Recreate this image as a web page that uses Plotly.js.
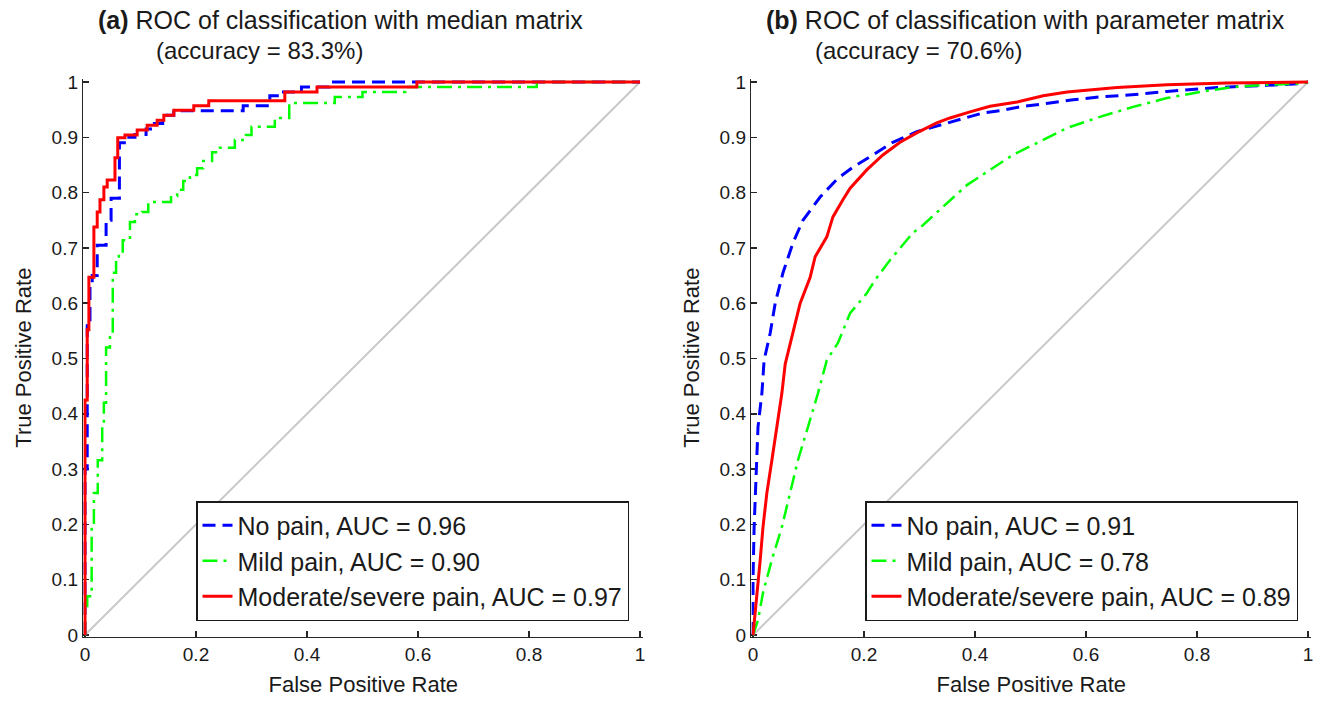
<!DOCTYPE html>
<html>
<head>
<meta charset="utf-8">
<script src="https://cdn.plot.ly/plotly-3.0.1.min.js"></script>
<style>html,body{margin:0;padding:0;background:#fff;}#chart{width:1321px;height:702px;}</style>
</head>
<body>
<div id="chart"></div>
<script>
// ---------- data ----------
const seriesNames = ["No pain", "Mild pain", "Moderate/severe pain"];
const aucA = ["0.96", "0.90", "0.97"];
const aucB = ["0.91", "0.78", "0.89"];
const panelTitles = ["<b>(a)</b> ROC of classification with median matrix", "<b>(b)</b> ROC of classification with parameter matrix"];
const panelSubtitles = ["(accuracy = 83.3%)", "(accuracy = 70.6%)"];
const xTickVals = [0, 0.2, 0.4, 0.6, 0.8, 1];
const xTickText = ["0", "0.2", "0.4", "0.6", "0.8", "1"];
const yTickVals = [0, 0.1, 0.2, 0.3, 0.4, 0.5, 0.6, 0.7, 0.8, 0.9, 1];
const yTickText = ["0", "0.1", "0.2", "0.3", "0.4", "0.5", "0.6", "0.7", "0.8", "0.9", "1"];
const chanceX = [0, 1];
const chanceY = [0, 1];

// Panel (a): step ROC curves (x = FPR, y = TPR)
const aNoPainX = [0, 0, 0.004, 0.009, 0.013, 0.022, 0.038, 0.047, 0.062, 0.075, 0.09, 0.11, 0.125, 0.14, 0.16, 0.285, 0.333, 0.35, 0.39, 0.44, 1];
const aNoPainY = [0, 0.30, 0.57, 0.63, 0.65, 0.705, 0.75, 0.79, 0.89, 0.90, 0.905, 0.915, 0.925, 0.94, 0.948, 0.957, 0.975, 0.982, 0.991, 1.0, 1.0];
const aMildX = [0, 0, 0.004, 0.012, 0.016, 0.023, 0.031, 0.034, 0.038, 0.045, 0.050, 0.056, 0.061, 0.068, 0.081, 0.09, 0.103, 0.114, 0.155, 0.166, 0.177, 0.189, 0.202, 0.213, 0.229, 0.243, 0.27, 0.29, 0.30, 0.342, 0.368, 0.45, 0.50, 0.577, 0.814, 1];
const aMildY = [0, 0.05, 0.07, 0.20, 0.257, 0.316, 0.376, 0.42, 0.52, 0.546, 0.655, 0.678, 0.69, 0.714, 0.747, 0.761, 0.765, 0.783, 0.794, 0.805, 0.821, 0.832, 0.844, 0.857, 0.873, 0.881, 0.895, 0.904, 0.919, 0.935, 0.962, 0.973, 0.982, 0.991, 1.0, 1.0];
const aModX = [0, 0, 0.004, 0.007, 0.016, 0.022, 0.027, 0.034, 0.040, 0.054, 0.059, 0.072, 0.094, 0.112, 0.130, 0.142, 0.160, 0.196, 0.223, 0.360, 0.418, 0.598, 1];
const aModY = [0, 0.425, 0.552, 0.647, 0.738, 0.765, 0.787, 0.810, 0.823, 0.863, 0.899, 0.904, 0.913, 0.922, 0.931, 0.940, 0.949, 0.957, 0.966, 0.982, 0.991, 1.0, 1.0];

// Panel (b): ROC curves
const bNoPainX = [0, 0, 0.002, 0.004, 0.007, 0.009, 0.016, 0.02, 0.031, 0.040, 0.054, 0.072, 0.09, 0.121, 0.153, 0.18, 0.216, 0.252, 0.295, 0.337, 0.378, 0.414, 0.445, 0.481, 0.535, 0.577, 0.625, 0.697, 0.746, 0.792, 0.836, 0.926, 0.985, 1];
const bNoPainY = [0, 0.10, 0.195, 0.257, 0.316, 0.376, 0.437, 0.497, 0.546, 0.60, 0.655, 0.709, 0.75, 0.792, 0.826, 0.846, 0.868, 0.891, 0.91, 0.922, 0.935, 0.944, 0.948, 0.955, 0.962, 0.968, 0.973, 0.978, 0.983, 0.987, 0.99, 0.994, 0.997, 1];
const bMildX = [0, 0.009, 0.018, 0.034, 0.052, 0.067, 0.081, 0.099, 0.117, 0.133, 0.153, 0.175, 0.205, 0.22, 0.247, 0.288, 0.306, 0.342, 0.386, 0.427, 0.468, 0.512, 0.566, 0.625, 0.685, 0.746, 0.805, 0.865, 0.926, 0.985, 1];
const bMildY = [0, 0.027, 0.076, 0.136, 0.195, 0.257, 0.316, 0.376, 0.437, 0.497, 0.528, 0.582, 0.618, 0.642, 0.678, 0.727, 0.741, 0.774, 0.814, 0.841, 0.868, 0.89, 0.917, 0.937, 0.955, 0.971, 0.982, 0.991, 0.995, 0.997, 1];
const bModX = [0, 0.002, 0.007, 0.013, 0.018, 0.025, 0.034, 0.043, 0.052, 0.058, 0.067, 0.085, 0.103, 0.112, 0.133, 0.144, 0.162, 0.175, 0.205, 0.234, 0.265, 0.295, 0.331, 0.355, 0.391, 0.427, 0.476, 0.523, 0.566, 0.656, 0.746, 0.854, 1];
const bModY = [0, 0.02, 0.076, 0.136, 0.195, 0.257, 0.316, 0.376, 0.437, 0.49, 0.528, 0.60, 0.647, 0.684, 0.72, 0.756, 0.787, 0.808, 0.841, 0.868, 0.891, 0.908, 0.926, 0.935, 0.946, 0.956, 0.964, 0.975, 0.982, 0.99, 0.995, 0.998, 1];

// ---------- styles ----------
const FONT = "Liberation Sans, Arial, Helvetica, sans-serif";
const INK = "#1a1a1a";
const styles = [
  {color: "#0000ff", width: 3, dash: "13px,7px"},
  {color: "#00ff00", width: 2.5, dash: "15px,6px,3px,6px"},
  {color: "#ff0000", width: 3, dash: "solid"}
];

function curve(x, y, i, auc, xa, ya, leg, shape) {
  return {
    type: "scatter", mode: "lines", x: x, y: y, xaxis: xa, yaxis: ya,
    name: seriesNames[i] + ", AUC = " + auc[i],
    legend: leg,
    line: {color: styles[i].color, width: styles[i].width, dash: styles[i].dash, shape: shape},
    hoverinfo: "x+y"
  };
}
function chance(xa, ya) {
  return {type: "scatter", mode: "lines", x: chanceX, y: chanceY, xaxis: xa, yaxis: ya,
    showlegend: false, line: {color: "#c8c8c8", width: 2}, hoverinfo: "skip"};
}

const traces = [
  chance("x", "y"),
  curve(aNoPainX, aNoPainY, 0, aucA, "x", "y", "legend", "hv"),
  curve(aMildX, aMildY, 1, aucA, "x", "y", "legend", "hv"),
  curve(aModX, aModY, 2, aucA, "x", "y", "legend", "hv"),
  chance("x2", "y2"),
  curve(bNoPainX, bNoPainY, 0, aucB, "x2", "y2", "legend2", "linear"),
  curve(bMildX, bMildY, 1, aucB, "x2", "y2", "legend2", "linear"),
  curve(bModX, bModY, 2, aucB, "x2", "y2", "legend2", "linear")
];

const W = 1321, H = 702;
function axisBase(extra) {
  return Object.assign({
    range: [-0.003, 1.006], showgrid: false, zeroline: false,
    showline: true, linecolor: "#262626", linewidth: 1.5, mirror: false,
    ticks: "inside", ticklen: 6, tickwidth: 1.5, tickcolor: "#262626",
    tickfont: {family: FONT, size: 19, color: INK},
    layer: "below traces", fixedrange: true
  }, extra);
}
const yDom = [65.34 / H, 623.32 / H];
const xTitle = {text: "False Positive Rate", font: {family: FONT, size: 22, color: INK}, standoff: 12};
const yTitle = {text: "True Positive Rate", font: {family: FONT, size: 22, color: INK}, standoff: 14};

const legendBase = {
  xref: "paper", yref: "paper", xanchor: "right", yanchor: "bottom",
  bgcolor: "#ffffff", bordercolor: "#1a1a1a", borderwidth: 1.5,
  font: {family: FONT, size: 25, color: INK}, traceorder: "normal"
};

const layout = {
  width: W, height: H, margin: {l: 0, r: 0, t: 0, b: 0},
  paper_bgcolor: "#ffffff", plot_bgcolor: "#ffffff",
  font: {family: FONT, color: INK},
  xaxis: axisBase({domain: [83.335 / W, 643.33 / W], anchor: "y", tickvals: xTickVals, ticktext: xTickText, title: xTitle}),
  yaxis: axisBase({domain: yDom, anchor: "x", tickvals: yTickVals, ticktext: yTickText, title: yTitle}),
  xaxis2: axisBase({domain: [751.335 / W, 1311.33 / W], anchor: "y2", tickvals: xTickVals, ticktext: xTickText, title: xTitle}),
  yaxis2: axisBase({domain: yDom, anchor: "x2", tickvals: yTickVals, ticktext: yTickText, title: yTitle}),
  legend: Object.assign({}, legendBase, {x: 629 / W, y: (H - 621) / H}),
  legend2: Object.assign({}, legendBase, {x: 1298 / W, y: (H - 621) / H}),
  annotations: [
    {text: panelTitles[0], xref: "paper", yref: "paper", x: 96 / W, y: (H - 20) / H, xanchor: "left", yanchor: "middle", showarrow: false, font: {family: FONT, size: 25, color: INK}},
    {text: panelSubtitles[0], xref: "paper", yref: "paper", x: 154 / W, y: (H - 50) / H, xanchor: "left", yanchor: "middle", showarrow: false, font: {family: FONT, size: 24, color: INK}},
    {text: panelTitles[1], xref: "paper", yref: "paper", x: 764 / W, y: (H - 20) / H, xanchor: "left", yanchor: "middle", showarrow: false, font: {family: FONT, size: 25, color: INK}},
    {text: panelSubtitles[1], xref: "paper", yref: "paper", x: 813 / W, y: (H - 50) / H, xanchor: "left", yanchor: "middle", showarrow: false, font: {family: FONT, size: 24, color: INK}}
  ],
  showlegend: true
};

Plotly.newPlot("chart", traces, layout, {displayModeBar: false, staticPlot: true});
</script>
</body>
</html>
